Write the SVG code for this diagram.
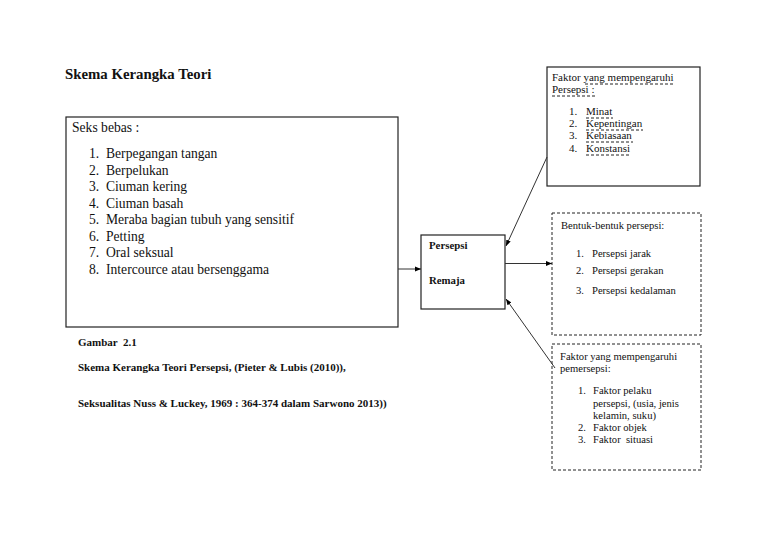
<svg xmlns="http://www.w3.org/2000/svg" width="768" height="543" viewBox="0 0 768 543">
<defs>
<marker id="ah" viewBox="0 0 10 10" refX="10" refY="5" markerWidth="6" markerHeight="6" orient="auto" markerUnits="userSpaceOnUse"><path d="M0,1 L10,5 L0,9 z" fill="#000"/></marker>
<style>
text{font-family:"Liberation Serif","Times New Roman",serif;fill:#111}
.t13{font-size:13.6px}
.t11{font-size:11px}
.t105{font-size:10.6px}
.b{font-weight:bold}
.box{fill:#fff;stroke:#222;stroke-width:1.2}
.dbox{fill:#fff;stroke:#222;stroke-width:1;stroke-dasharray:3,2}
.ul{stroke:#222;stroke-width:1;stroke-dasharray:3,2;fill:none}
.con{stroke:#333;stroke-width:1;fill:none}
</style>
</defs>
<rect width="768" height="543" fill="#fff"/>
<text x="65" y="79" class="b" style="font-size:14.8px">Skema Kerangka Teori</text>

<g id="seks-bebas">
<rect class="box" x="66" y="117" width="332" height="210"/>
<text class="t13" x="72" y="132">Seks bebas :</text>
<g class="t13">
<text x="89" y="158">1.</text><text x="106" y="158">Berpegangan tangan</text>
<text x="89" y="174.5">2.</text><text x="106" y="174.5">Berpelukan</text>
<text x="89" y="191">3.</text><text x="106" y="191">Ciuman kering</text>
<text x="89" y="207.5">4.</text><text x="106" y="207.5">Ciuman basah</text>
<text x="89" y="224">5.</text><text x="106" y="224">Meraba bagian tubuh yang sensitif</text>
<text x="89" y="240.5">6.</text><text x="106" y="240.5">Petting</text>
<text x="89" y="257">7.</text><text x="106" y="257">Oral seksual</text>
<text x="89" y="273.5">8.</text><text x="106" y="273.5">Intercource atau bersenggama</text>
</g>
</g>

<g id="caption" style="font-size:11px" class="b">
<text x="78" y="346" xml:space="preserve">Gambar  2.1</text>
<text x="78" y="371">Skema Kerangka Teori Persepsi, (Pieter &amp; Lubis (2010)),</text>
<text x="78" y="407">Seksualitas Nuss &amp; Luckey, 1969 : 364-374 dalam Sarwono 2013))</text>
</g>

<g id="persepsi-remaja">
<rect class="box" x="421" y="235" width="84" height="74"/>
<text x="429" y="249" class="b" style="font-size:10.8px">Persepsi</text>
<text x="429" y="284" class="b" style="font-size:10.8px">Remaja</text>
</g>

<g id="faktor-persepsi">
<rect class="box" x="547" y="67" width="153" height="119"/>
<g class="t11">
<text x="552" y="81">Faktor yang mempengaruhi</text>
<text x="552" y="93">Persepsi :</text>
<text x="569" y="115">1.</text><text x="586" y="115">Minat</text>
<text x="569" y="127">2.</text><text x="586" y="127">Kepentingan</text>
<text x="569" y="139">3.</text><text x="586" y="139">Kebiasaan</text>
<text x="569" y="152">4.</text><text x="586" y="152">Konstansi</text>
</g>
<path class="ul" d="M585,84 H675 M552,96 H596 M586,118 H613 M586,130 H643 M586,142 H633 M586,155 H631"/>
</g>

<g id="bentuk-persepsi">
<rect class="dbox" x="552" y="213" width="149" height="122"/>
<g class="t105">
<text x="561" y="229">Bentuk-bentuk persepsi:</text>
<text x="576" y="257">1.</text><text x="592" y="257">Persepsi jarak</text>
<text x="576" y="274">2.</text><text x="592" y="274">Persepsi gerakan</text>
<text x="576" y="294">3.</text><text x="592" y="294">Persepsi kedalaman</text>
</g>
</g>

<g id="faktor-pemersepsi">
<rect class="dbox" x="552" y="344" width="149" height="126"/>
<g class="t105">
<text x="560" y="360">Faktor yang mempengaruhi</text>
<text x="560" y="372">pemersepsi:</text>
<text x="578" y="394">1.</text><text x="593" y="394">Faktor pelaku</text>
<text x="593" y="407">persepsi, (usia, jenis</text>
<text x="593" y="419">kelamin, suku)</text>
<text x="578" y="431">2.</text><text x="593" y="431">Faktor objek</text>
<text x="578" y="443">3.</text><text x="593" y="443" xml:space="preserve">Faktor  situasi</text>
</g>
</g>

<g id="connectors">
<line class="con" x1="398" y1="269" x2="421" y2="269" marker-end="url(#ah)"/>
<line class="con" x1="505" y1="263.5" x2="552" y2="263.5" marker-end="url(#ah)"/>
<line class="con" x1="547" y1="157" x2="506" y2="246" marker-end="url(#ah)"/>
<line class="con" x1="555" y1="368" x2="506" y2="299" marker-end="url(#ah)"/>
</g>
</svg>
